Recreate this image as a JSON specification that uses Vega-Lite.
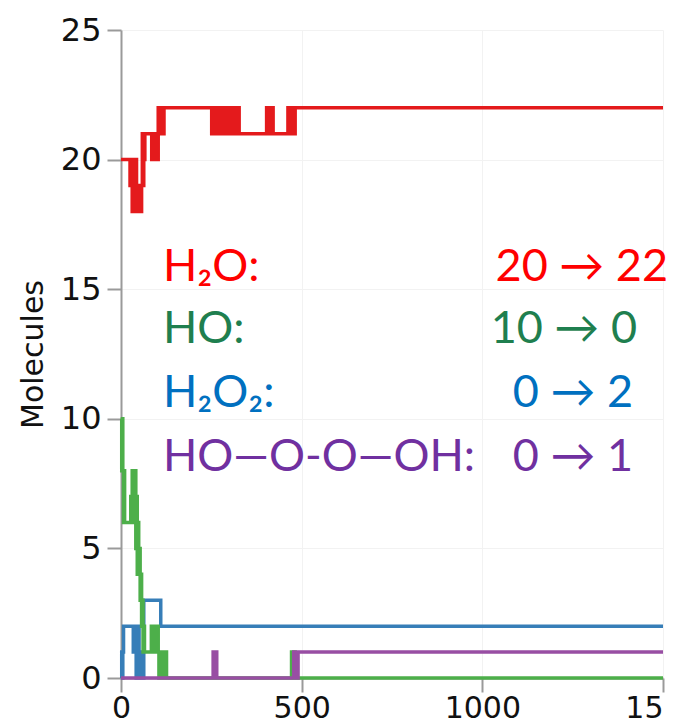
{
  "$schema": "https://vega.github.io/schema/vega-lite/v6.json",
  "autosize": {"type": "none"},
  "padding": {"left": 121, "top": 30, "right": 13, "bottom": 46},
  "width": 542,
  "height": 648,
  "background": "white",
  "config": {
    "view": {"stroke": null},
    "axis": {
      "domainColor": "#9a9a9a", "domainWidth": 2,
      "tickColor": "#9a9a9a", "tickWidth": 2, "tickSize": 14,
      "labelFont": "DejaVu Sans", "labelFontSize": 30, "labelColor": "#111111",
      "gridColor": "#f2f2f2", "gridWidth": 1,
      "titleFont": "DejaVu Sans", "titleFontSize": 30, "titleFontWeight": "normal", "titleColor": "#111111"
    }
  },
  "datasets": {
    "lines": [
      {"s":"H2O","t":0,"n":20},{"s":"H2O","t":25,"n":19},{"s":"H2O","t":27,"n":20},{"s":"H2O","t":29,"n":19},{"s":"H2O","t":31,"n":18},{"s":"H2O","t":33,"n":20},{"s":"H2O","t":35,"n":18},{"s":"H2O","t":37,"n":19},{"s":"H2O","t":39,"n":18},{"s":"H2O","t":41,"n":20},{"s":"H2O","t":43,"n":18},{"s":"H2O","t":45,"n":19},{"s":"H2O","t":47,"n":18},{"s":"H2O","t":49,"n":19},{"s":"H2O","t":51,"n":18},{"s":"H2O","t":53,"n":19},{"s":"H2O","t":55,"n":18},{"s":"H2O","t":57,"n":19},{"s":"H2O","t":59,"n":21},{"s":"H2O","t":61,"n":19},{"s":"H2O","t":63,"n":21},{"s":"H2O","t":65,"n":20},{"s":"H2O","t":66,"n":21},
      {"s":"H2O","t":85,"n":20},{"s":"H2O","t":87,"n":21},{"s":"H2O","t":89,"n":20},{"s":"H2O","t":91,"n":21},{"s":"H2O","t":93,"n":20},{"s":"H2O","t":95,"n":21},{"s":"H2O","t":97,"n":20},{"s":"H2O","t":99,"n":21},{"s":"H2O","t":101,"n":20},{"s":"H2O","t":103,"n":22},{"s":"H2O","t":105,"n":21},{"s":"H2O","t":107,"n":22},{"s":"H2O","t":109,"n":21},{"s":"H2O","t":111,"n":22},{"s":"H2O","t":113,"n":21},{"s":"H2O","t":115,"n":22},{"s":"H2O","t":117,"n":21},{"s":"H2O","t":119,"n":22},
      {"s":"H2O","t":251,"n":21},{"s":"H2O","t":253,"n":22},{"s":"H2O","t":255,"n":21},{"s":"H2O","t":257,"n":22},{"s":"H2O","t":259,"n":21},{"s":"H2O","t":261,"n":22},{"s":"H2O","t":263,"n":21},{"s":"H2O","t":265,"n":22},{"s":"H2O","t":267,"n":21},{"s":"H2O","t":269,"n":22},{"s":"H2O","t":271,"n":21},
      {"s":"H2O","t":277,"n":22},{"s":"H2O","t":279,"n":21},{"s":"H2O","t":281,"n":22},{"s":"H2O","t":283,"n":21},{"s":"H2O","t":285,"n":22},{"s":"H2O","t":287,"n":21},{"s":"H2O","t":289,"n":22},
      {"s":"H2O","t":296,"n":21},{"s":"H2O","t":298,"n":22},{"s":"H2O","t":300,"n":21},{"s":"H2O","t":302,"n":22},{"s":"H2O","t":304,"n":21},
      {"s":"H2O","t":313,"n":22},{"s":"H2O","t":315,"n":21},{"s":"H2O","t":317,"n":22},{"s":"H2O","t":319,"n":21},{"s":"H2O","t":321,"n":22},{"s":"H2O","t":323,"n":21},{"s":"H2O","t":325,"n":22},{"s":"H2O","t":327,"n":21},
      {"s":"H2O","t":403,"n":22},{"s":"H2O","t":405,"n":21},{"s":"H2O","t":407,"n":22},{"s":"H2O","t":409,"n":21},{"s":"H2O","t":411,"n":22},{"s":"H2O","t":413,"n":21},{"s":"H2O","t":415,"n":22},{"s":"H2O","t":417,"n":21},{"s":"H2O","t":419,"n":22},{"s":"H2O","t":421,"n":21},
      {"s":"H2O","t":462,"n":22},{"s":"H2O","t":464,"n":21},{"s":"H2O","t":466,"n":22},{"s":"H2O","t":468,"n":21},{"s":"H2O","t":470,"n":22},{"s":"H2O","t":472,"n":21},{"s":"H2O","t":474,"n":22},{"s":"H2O","t":476,"n":21},{"s":"H2O","t":478,"n":22},{"s":"H2O","t":480,"n":21},{"s":"H2O","t":482,"n":22},{"s":"H2O","t":1500,"n":22},

      {"s":"H2O2","t":0,"n":0},{"s":"H2O2","t":2,"n":1},{"s":"H2O2","t":4,"n":0},{"s":"H2O2","t":5,"n":1},{"s":"H2O2","t":7,"n":2},{"s":"H2O2","t":34,"n":1},{"s":"H2O2","t":36,"n":2},{"s":"H2O2","t":38,"n":1},{"s":"H2O2","t":40,"n":2},{"s":"H2O2","t":42,"n":0},{"s":"H2O2","t":44,"n":2},{"s":"H2O2","t":46,"n":1},{"s":"H2O2","t":48,"n":2},{"s":"H2O2","t":50,"n":0},{"s":"H2O2","t":52,"n":1},{"s":"H2O2","t":54,"n":0},{"s":"H2O2","t":56,"n":1},{"s":"H2O2","t":57,"n":0},{"s":"H2O2","t":63,"n":3},{"s":"H2O2","t":110,"n":2},{"s":"H2O2","t":1500,"n":2},

      {"s":"HO","t":0,"n":10},{"s":"HO","t":2,"n":8},{"s":"HO","t":4,"n":10},{"s":"HO","t":5,"n":8},{"s":"HO","t":7,"n":6},{"s":"HO","t":9,"n":8},{"s":"HO","t":10,"n":6},{"s":"HO","t":27,"n":7},{"s":"HO","t":29,"n":6},{"s":"HO","t":31,"n":8},{"s":"HO","t":33,"n":6},{"s":"HO","t":35,"n":8},{"s":"HO","t":37,"n":7},{"s":"HO","t":39,"n":8},{"s":"HO","t":41,"n":5},{"s":"HO","t":43,"n":7},{"s":"HO","t":45,"n":4},{"s":"HO","t":47,"n":6},{"s":"HO","t":49,"n":4},{"s":"HO","t":51,"n":5},{"s":"HO","t":53,"n":3},{"s":"HO","t":55,"n":4},{"s":"HO","t":57,"n":2},{"s":"HO","t":59,"n":3},{"s":"HO","t":61,"n":1},{"s":"HO","t":63,"n":2},{"s":"HO","t":65,"n":1},
      {"s":"HO","t":84,"n":2},{"s":"HO","t":86,"n":1},{"s":"HO","t":88,"n":2},{"s":"HO","t":90,"n":1},{"s":"HO","t":92,"n":2},{"s":"HO","t":94,"n":1},{"s":"HO","t":96,"n":2},{"s":"HO","t":98,"n":1},{"s":"HO","t":100,"n":2},{"s":"HO","t":103,"n":1},{"s":"HO","t":105,"n":0},{"s":"HO","t":107,"n":1},{"s":"HO","t":109,"n":0},{"s":"HO","t":111,"n":1},{"s":"HO","t":113,"n":0},{"s":"HO","t":115,"n":1},{"s":"HO","t":117,"n":0},{"s":"HO","t":119,"n":1},{"s":"HO","t":121,"n":0},{"s":"HO","t":123,"n":1},{"s":"HO","t":126,"n":0},
      {"s":"HO","t":472,"n":1},{"s":"HO","t":474,"n":0},{"s":"HO","t":476,"n":1},{"s":"HO","t":478,"n":0},{"s":"HO","t":480,"n":1},{"s":"HO","t":482,"n":0},{"s":"HO","t":1500,"n":0},

      {"s":"HOOOOH","t":0,"n":0},{"s":"HOOOOH","t":255,"n":1},{"s":"HOOOOH","t":257,"n":0},{"s":"HOOOOH","t":259,"n":1},{"s":"HOOOOH","t":261,"n":0},{"s":"HOOOOH","t":263,"n":1},{"s":"HOOOOH","t":265,"n":0},{"s":"HOOOOH","t":478,"n":1},{"s":"HOOOOH","t":480,"n":0},{"s":"HOOOOH","t":482,"n":1},{"s":"HOOOOH","t":484,"n":0},{"s":"HOOOOH","t":486,"n":1},{"s":"HOOOOH","t":488,"n":0},{"s":"HOOOOH","t":490,"n":1},{"s":"HOOOOH","t":1500,"n":1}
    ],
    "labels": [
      {"k":"H2O","t":116,"n":15.32,"text":"H₂O:"},
      {"k":"HO","t":116,"n":12.92,"text":"HO:"},
      {"k":"H2O2","t":116,"n":10.46,"text":"H₂O₂:"},
      {"k":"HOOOOH","t":116,"n":7.99,"text":"HO—O-O—OH:"}
    ],
    "values": [
      {"k":"H2O","t":1514,"n":15.32,"text":"20 → 22"},
      {"k":"HO","t":1428,"n":12.92,"text":"10 → 0"},
      {"k":"H2O2","t":1417,"n":10.46,"text":"0 → 2"},
      {"k":"HOOOOH","t":1417,"n":7.99,"text":"0 → 1"}
    ]
  },
  "layer": [
    {
      "data": {"name": "lines"},
      "mark": {"type": "line", "interpolate": "step-after", "strokeWidth": 3.5},
      "encoding": {
        "x": {"field": "t", "type": "quantitative", "scale": {"domain": [0, 1500], "nice": false},
              "axis": {"title": null, "values": [0, 500, 1000, 1500], "format": "d", "labelFlush": false, "labelPadding": 1,
                       "labelExpr": "datum.value == 1500 ? '15' : datum.label",
                       "labelAlign": {"condition": {"test": "datum.value == 1500", "value": "right"}, "value": "center"}}},
        "y": {"field": "n", "type": "quantitative", "scale": {"domain": [0, 25], "nice": false},
              "axis": {"title": "Molecules", "values": [0, 5, 10, 15, 20, 25], "labelFontSize": 32, "labelPadding": 6, "titlePadding": 12}},
        "color": {"field": "s", "type": "nominal", "legend": null,
                  "scale": {"domain": ["H2O", "H2O2", "HO", "HOOOOH"], "range": ["#e41a1c", "#377eb8", "#4daf4a", "#984ea3"]}}
      }
    },
    {
      "data": {"name": "labels"},
      "mark": {"type": "text", "align": "left", "baseline": "alphabetic", "font": "Lato", "fontSize": 45},
      "encoding": {
        "x": {"field": "t", "type": "quantitative"},
        "y": {"field": "n", "type": "quantitative"},
        "text": {"field": "text"},
        "color": {"field": "k", "type": "nominal", "legend": null,
                  "scale": {"domain": ["H2O", "HO", "H2O2", "HOOOOH"], "range": ["#ff0000", "#1f7f4f", "#0070c0", "#7030a0"]}}
      }
    },
    {
      "data": {"name": "values"},
      "mark": {"type": "text", "align": "right", "baseline": "alphabetic", "font": "Lato", "fontSize": 45},
      "encoding": {
        "x": {"field": "t", "type": "quantitative"},
        "y": {"field": "n", "type": "quantitative"},
        "text": {"field": "text"},
        "color": {"field": "k", "type": "nominal", "legend": null,
                  "scale": {"domain": ["H2O", "HO", "H2O2", "HOOOOH"], "range": ["#ff0000", "#1f7f4f", "#0070c0", "#7030a0"]}}
      }
    }
  ],
  "resolve": {"scale": {"color": "independent"}}
}
